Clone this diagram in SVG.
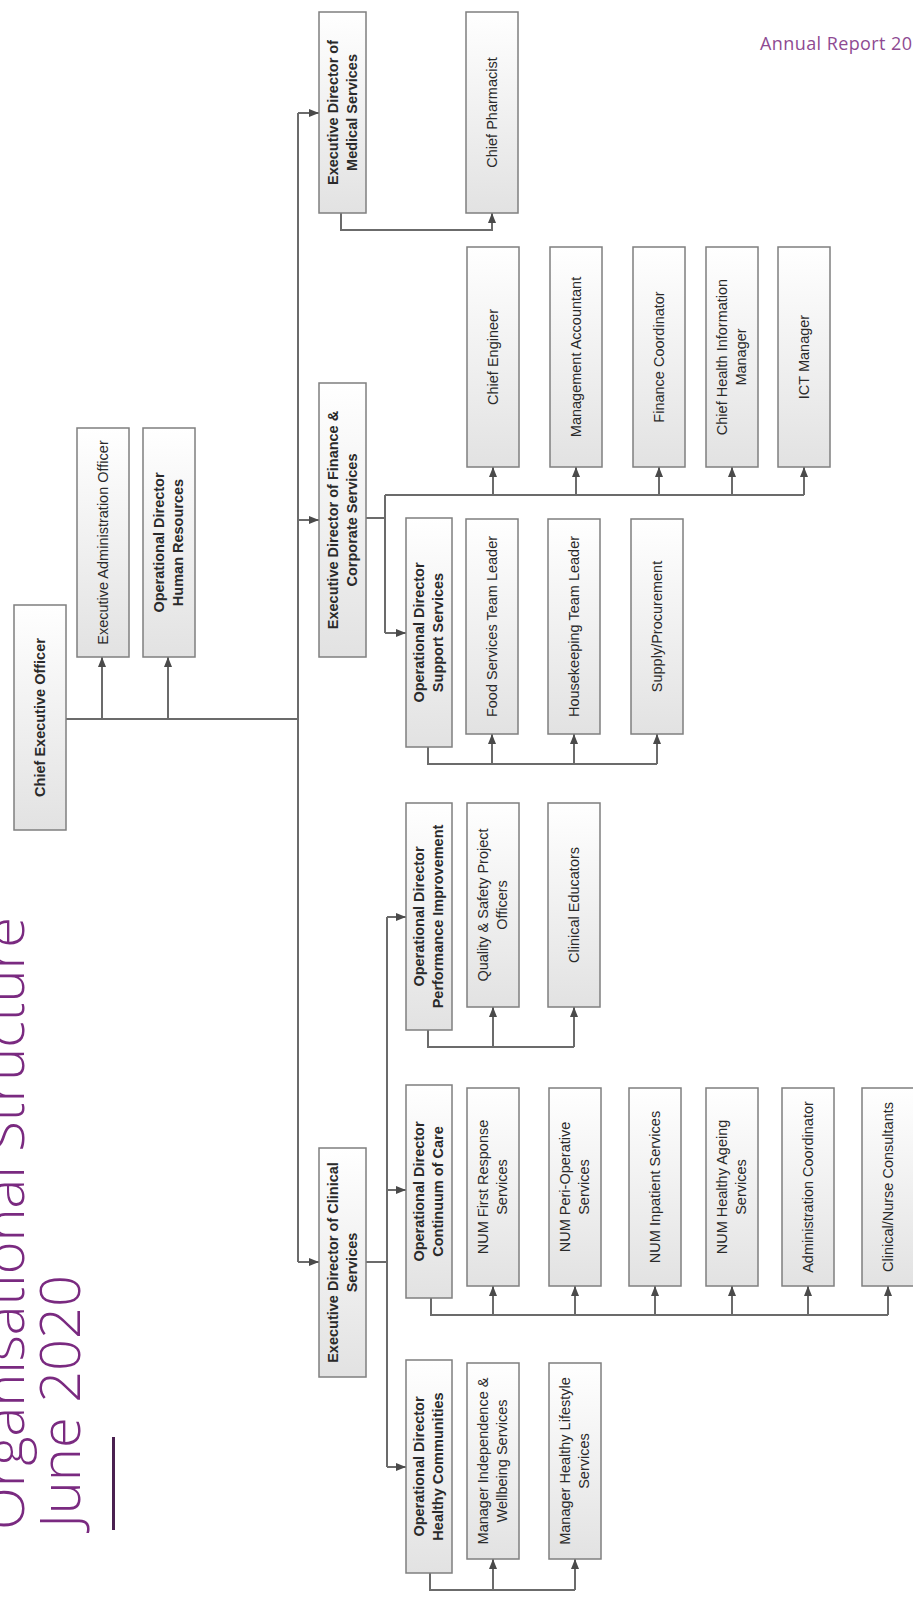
<svg xmlns="http://www.w3.org/2000/svg" width="913" height="1601" viewBox="0 0 913 1601">
<style>
.box{fill:url(#g);stroke:#7f7f7f;stroke-width:1.5}
.t{font-family:"Liberation Sans",Arial,sans-serif;font-size:14.5px;fill:#2a2a2a;text-anchor:middle}
.b{font-weight:bold}
.c{fill:none;stroke:#6b6b6b;stroke-width:2}
.title{font-family:"Open Sans","Noto Sans",sans-serif;font-weight:300;font-size:56px;fill:#7a2a80}
</style>
<defs>
<linearGradient id="g" x1="0" y1="0" x2="0" y2="1">
<stop offset="0" stop-color="#ffffff"/>
<stop offset="1" stop-color="#e2e2e2"/>
</linearGradient>
<marker id="a" markerUnits="userSpaceOnUse" markerWidth="10" markerHeight="10" viewBox="0 0 10 10" refX="10" refY="5" orient="auto">
<path d="M0,1 L10,5 L0,9 z" fill="#4a4a4a"/>
</marker>
</defs>
<rect width="913" height="1601" fill="#ffffff"/>

<g id="title">
<text class="title" transform="translate(24,1530) rotate(-90)" textLength="613">Organisational Structure</text>
<text class="title" transform="translate(80,1528) rotate(-90)" textLength="253">June 2020</text>
<rect x="112" y="1437" width="3" height="93" fill="#4a2050"/>
<text x="760" y="50" font-family="'Open Sans','Noto Sans',sans-serif" font-size="18" fill="#8e4a92" textLength="152">Annual Report 20</text>
</g>

<g id="connectors">
<path class="c" d="M66,719 H298"/>
<path class="c" d="M298,113 V1262"/>
<path class="c" d="M102,719 V657" marker-end="url(#a)"/>
<path class="c" d="M168,719 V657" marker-end="url(#a)"/>
<path class="c" d="M298,113 H319" marker-end="url(#a)"/>
<path class="c" d="M298,520 H319" marker-end="url(#a)"/>
<path class="c" d="M298,1262 H319" marker-end="url(#a)"/>
<path class="c" d="M341,213 V230 H492 V213" marker-end="url(#a)"/>
<path class="c" d="M366,518 H385 M385,495 V633 M385,495 H804"/>
<path class="c" d="M385,633 H406" marker-end="url(#a)"/>
<path class="c" d="M493,495 V467" marker-end="url(#a)"/>
<path class="c" d="M576,495 V467" marker-end="url(#a)"/>
<path class="c" d="M659,495 V467" marker-end="url(#a)"/>
<path class="c" d="M732,495 V467" marker-end="url(#a)"/>
<path class="c" d="M804,495 V467" marker-end="url(#a)"/>
<path class="c" d="M428,747 V764 H657"/>
<path class="c" d="M492,764 V734" marker-end="url(#a)"/>
<path class="c" d="M574,764 V734" marker-end="url(#a)"/>
<path class="c" d="M657,764 V734" marker-end="url(#a)"/>
<path class="c" d="M366,1262 H387 M387,917 V1467"/>
<path class="c" d="M387,917 H406" marker-end="url(#a)"/>
<path class="c" d="M387,1190 H406" marker-end="url(#a)"/>
<path class="c" d="M387,1467 H406" marker-end="url(#a)"/>
<path class="c" d="M428,1030 V1047 H574"/>
<path class="c" d="M493,1047 V1007" marker-end="url(#a)"/>
<path class="c" d="M574,1047 V1007" marker-end="url(#a)"/>
<path class="c" d="M431,1298 V1315 H888"/>
<path class="c" d="M493,1315 V1286" marker-end="url(#a)"/>
<path class="c" d="M575,1315 V1286" marker-end="url(#a)"/>
<path class="c" d="M655,1315 V1286" marker-end="url(#a)"/>
<path class="c" d="M732,1315 V1286" marker-end="url(#a)"/>
<path class="c" d="M808,1315 V1286" marker-end="url(#a)"/>
<path class="c" d="M888,1315 V1286" marker-end="url(#a)"/>
<path class="c" d="M430,1573 V1590 H575"/>
<path class="c" d="M493,1590 V1559" marker-end="url(#a)"/>
<path class="c" d="M575,1590 V1559" marker-end="url(#a)"/>
</g>

<g id="ceo"><rect class="box" x="14" y="605" width="52" height="225"/>
<text class="t b" transform="translate(40,717.5) rotate(-90)" y="5">Chief Executive Officer</text></g>
<g id="exec-admin"><rect class="box" x="77" y="428" width="52" height="229"/>
<text class="t" transform="translate(103,542.5) rotate(-90)" y="5">Executive Administration Officer</text></g>
<g id="od-hr"><rect class="box" x="143" y="428" width="52" height="229"/>
<text class="t b" transform="translate(169,542.5) rotate(-90)"><tspan x="0" y="-5">Operational Director</tspan><tspan x="0" y="14">Human Resources</tspan></text></g>

<g id="ed-medical"><rect class="box" x="319" y="12" width="47" height="201"/>
<text class="t b" transform="translate(342.5,112.5) rotate(-90)"><tspan x="0" y="-5">Executive Director of</tspan><tspan x="0" y="14">Medical Services</tspan></text></g>
<g id="pharmacist"><rect class="box" x="466" y="12" width="52" height="201"/>
<text class="t" transform="translate(492,112.5) rotate(-90)" y="5">Chief Pharmacist</text></g>

<g id="ed-finance"><rect class="box" x="319" y="383" width="47" height="274"/>
<text class="t b" transform="translate(342.5,520) rotate(-90)"><tspan x="0" y="-5">Executive Director of Finance &amp;</tspan><tspan x="0" y="14">Corporate Services</tspan></text></g>
<g id="engineer"><rect class="box" x="467" y="247" width="52" height="220"/>
<text class="t" transform="translate(493,357) rotate(-90)" y="5">Chief Engineer</text></g>
<g id="mgmt-acct"><rect class="box" x="550" y="247" width="52" height="220"/>
<text class="t" transform="translate(576,357) rotate(-90)" y="5">Management Accountant</text></g>
<g id="fin-coord"><rect class="box" x="633" y="247" width="52" height="220"/>
<text class="t" transform="translate(659,357) rotate(-90)" y="5">Finance Coordinator</text></g>
<g id="chim"><rect class="box" x="706" y="247" width="52" height="220"/>
<text class="t" transform="translate(732,357) rotate(-90)"><tspan x="0" y="-5">Chief Health Information</tspan><tspan x="0" y="14">Manager</tspan></text></g>
<g id="ict"><rect class="box" x="778" y="247" width="52" height="220"/>
<text class="t" transform="translate(804,357) rotate(-90)" y="5">ICT Manager</text></g>

<g id="od-support"><rect class="box" x="406" y="518" width="46" height="229"/>
<text class="t b" transform="translate(429,632.5) rotate(-90)"><tspan x="0" y="-5">Operational Director</tspan><tspan x="0" y="14">Support Services</tspan></text></g>
<g id="food"><rect class="box" x="466" y="519" width="52" height="215"/>
<text class="t" transform="translate(492,626.5) rotate(-90)" y="5">Food Services Team Leader</text></g>
<g id="housekeeping"><rect class="box" x="548" y="519" width="52" height="215"/>
<text class="t" transform="translate(574,626.5) rotate(-90)" y="5">Housekeeping Team Leader</text></g>
<g id="supply"><rect class="box" x="631" y="519" width="52" height="215"/>
<text class="t" transform="translate(657,626.5) rotate(-90)" y="5">Supply/Procurement</text></g>

<g id="ed-clinical"><rect class="box" x="319" y="1148" width="47" height="229"/>
<text class="t b" transform="translate(342.5,1262.5) rotate(-90)"><tspan x="0" y="-5">Executive Director of Clinical</tspan><tspan x="0" y="14">Services</tspan></text></g>

<g id="od-performance"><rect class="box" x="406" y="803" width="46" height="227"/>
<text class="t b" transform="translate(429,916.5) rotate(-90)"><tspan x="0" y="-5">Operational Director</tspan><tspan x="0" y="14">Performance Improvement</tspan></text></g>
<g id="quality"><rect class="box" x="467" y="803" width="52" height="204"/>
<text class="t" transform="translate(493,905) rotate(-90)"><tspan x="0" y="-5">Quality &amp; Safety Project</tspan><tspan x="0" y="14">Officers</tspan></text></g>
<g id="clin-ed"><rect class="box" x="548" y="803" width="52" height="204"/>
<text class="t" transform="translate(574,905) rotate(-90)" y="5">Clinical Educators</text></g>

<g id="od-continuum"><rect class="box" x="406" y="1085" width="46" height="213"/>
<text class="t b" transform="translate(429,1191.5) rotate(-90)"><tspan x="0" y="-5">Operational Director</tspan><tspan x="0" y="14">Continuum of Care</tspan></text></g>
<g id="num-fr"><rect class="box" x="467" y="1088" width="52" height="198"/>
<text class="t" transform="translate(493,1187) rotate(-90)"><tspan x="0" y="-5">NUM First Response</tspan><tspan x="0" y="14">Services</tspan></text></g>
<g id="num-po"><rect class="box" x="549" y="1088" width="52" height="198"/>
<text class="t" transform="translate(575,1187) rotate(-90)"><tspan x="0" y="-5">NUM Peri-Operative</tspan><tspan x="0" y="14">Services</tspan></text></g>
<g id="num-ip"><rect class="box" x="629" y="1088" width="52" height="198"/>
<text class="t" transform="translate(655,1187) rotate(-90)" y="5">NUM Inpatient Services</text></g>
<g id="num-ha"><rect class="box" x="706" y="1088" width="52" height="198"/>
<text class="t" transform="translate(732,1187) rotate(-90)"><tspan x="0" y="-5">NUM Healthy Ageing</tspan><tspan x="0" y="14">Services</tspan></text></g>
<g id="admin-coord"><rect class="box" x="782" y="1088" width="52" height="198"/>
<text class="t" transform="translate(808,1187) rotate(-90)" y="5">Administration Coordinator</text></g>
<g id="clin-nurse"><rect class="box" x="862" y="1088" width="52" height="198"/>
<text class="t" transform="translate(888,1187) rotate(-90)" y="5">Clinical/Nurse Consultants</text></g>

<g id="od-communities"><rect class="box" x="406" y="1360" width="46" height="213"/>
<text class="t b" transform="translate(429,1466.5) rotate(-90)"><tspan x="0" y="-5">Operational Director</tspan><tspan x="0" y="14">Healthy Communities</tspan></text></g>
<g id="mgr-iw"><rect class="box" x="467" y="1363" width="52" height="196"/>
<text class="t" transform="translate(493,1461) rotate(-90)"><tspan x="0" y="-5">Manager Independence &amp;</tspan><tspan x="0" y="14">Wellbeing Services</tspan></text></g>
<g id="mgr-hl"><rect class="box" x="549" y="1363" width="52" height="196"/>
<text class="t" transform="translate(575,1461) rotate(-90)"><tspan x="0" y="-5">Manager Healthy Lifestyle</tspan><tspan x="0" y="14">Services</tspan></text></g>
</svg>
